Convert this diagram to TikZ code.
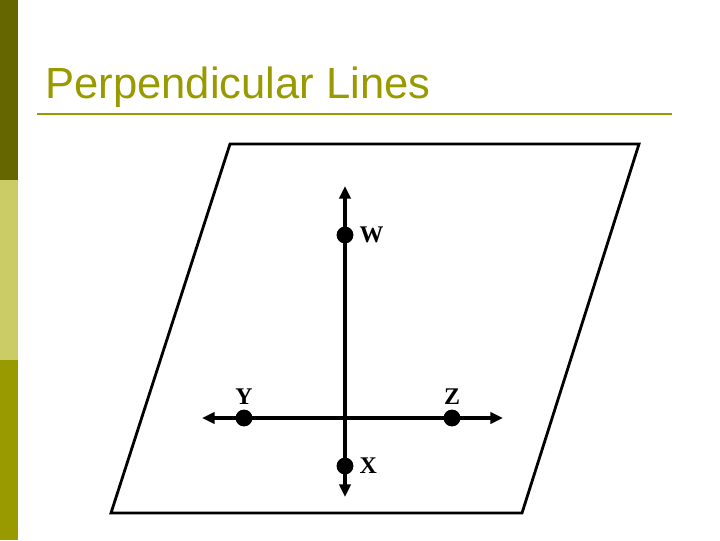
\documentclass[tikz,border=0pt]{standalone}
\usepackage{fontspec}
\setmainfont{Liberation Serif}
\newfontfamily\titlefont{Liberation Sans}
\usetikzlibrary{arrows.meta, positioning}
\definecolor{barolive}{RGB}{102, 102, 0}
\definecolor{barlight}{RGB}{204, 204, 102}
\definecolor{barmid}{RGB}{153, 153, 0}
\definecolor{titleolive}{RGB}{153, 153, 0}

\begin{document}
\begin{tikzpicture}[
        x=0.025cm, y=-0.025cm,
        pt/.style={circle, fill=black, inner sep=0pt, minimum size=12pt},
        lbl/.style={font=\bfseries\fontsize{17}{17}\selectfont, inner sep=1pt},
        axis/.style={line width=3pt, {Triangle[length=9pt, width=8pt]}-{Triangle[length=9pt, width=8pt]}}
    ]
        \useasboundingbox (0,0) rectangle (720,540);
        % side bar
        \fill[barolive] (0,0) rectangle (18,180);
        \fill[barlight] (0,180) rectangle (18,360);
        \fill[barmid] (0,360) rectangle (18,540);

        % title
        \node[anchor=base west, inner sep=0pt, text=titleolive, font=\titlefont\fontsize{31}{31}\selectfont] (title) at (45,98) {Perpendicular Lines};
        \draw[titleolive, line width=2pt] (37,114) -- (672,114);

        % plane
        \draw[line width=2pt] (230,144) -- (639,144) -- (522,513) -- (111,513) -- cycle;

        % lines
        \coordinate (top) at (345,186);
        \coordinate (bottom) at (345,497);
        \coordinate (left) at (202,418);
        \coordinate (right) at (503,418);
        \draw[axis] (top) -- (bottom);
        \draw[axis] (left) -- (right);

        % points
        \node[pt] (w) at (345,235) {};
        \node[pt] (x) at (345,466) {};
        \node[pt] (y) at (244,418) {};
        \node[pt] (z) at (452,418) {};
        \node[lbl, right=3pt of w] {W};
        \node[lbl, right=3pt of x] {X};
        \node[lbl, above=2pt of y] {Y};
        \node[lbl, above=2pt of z] {Z};
    \end{tikzpicture}
\end{document}
